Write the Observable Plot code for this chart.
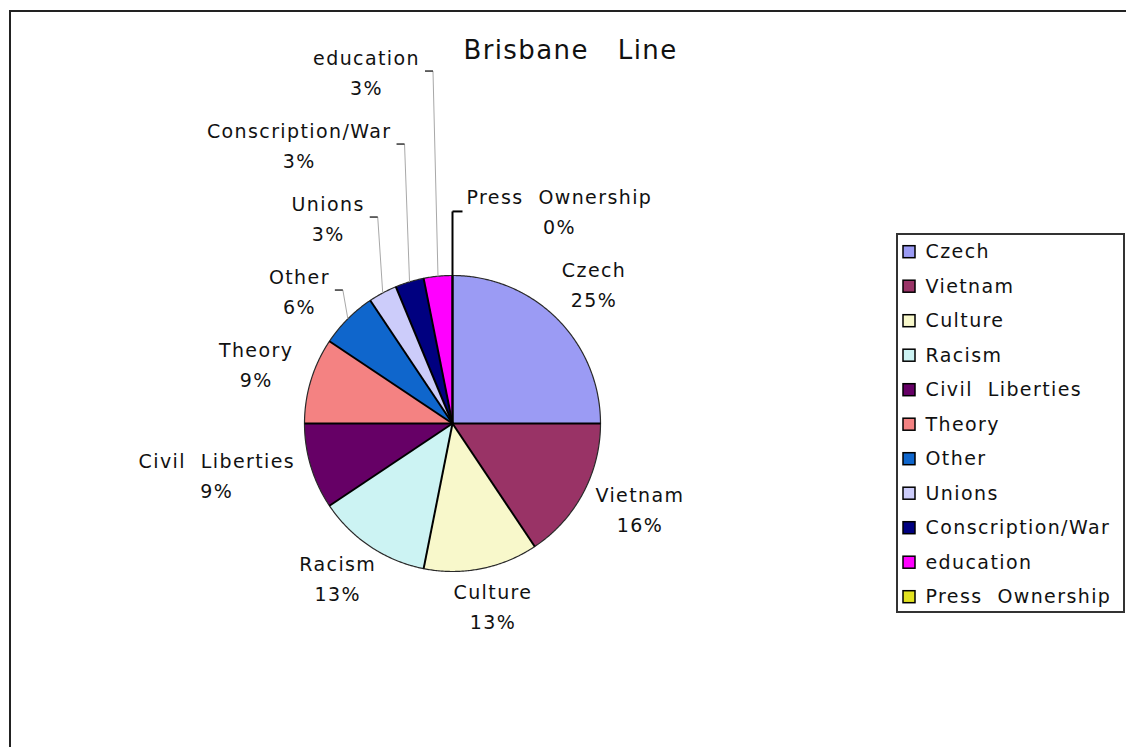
<!DOCTYPE html>
<html>
<head>
<meta charset="utf-8">
<script src="https://cdn.jsdelivr.net/npm/d3@7"></script>
<script src="https://cdn.jsdelivr.net/npm/@observablehq/plot@0.6"></script>
<style>
  html, body { margin: 0; padding: 0; background: #fff; overflow: hidden; }
  #chart svg { display: block; }
</style>
</head>
<body>
<div id="chart"></div>
<script>
// ---- data ----
const title = "Brisbane   Line";
const categories = ["Czech", "Vietnam", "Culture", "Racism", "Civil  Liberties", "Theory",
  "Other", "Unions", "Conscription/War", "education", "Press  Ownership"];
const counts = [8, 5, 4, 4, 3, 3, 2, 1, 1, 1, 0];
const colors = ["#9b9bf4", "#993366", "#f8f8cb", "#ccf3f3", "#660066", "#f48282",
  "#0f66cc", "#ccccfa", "#000080", "#ff00ff", "#e2e220"];

// ---- layout ----
const W = 1126, H = 747;
const cx = 452, cy = 423, R = 148;
const FONT = "DejaVu Sans", FS = 19, LS = 1.4;
const TEXT = "#111";
const nb = s => s.replace(/ /g, "\u00a0");

const total = d3.sum(counts);
const pctText = counts.map(v => Math.round(100 * v / total) + "%");

const ctx = document.createElement("canvas").getContext("2d");
ctx.font = `${FS}px "${FONT}"`;
const tw = s => ctx.measureText(nb(s)).width + LS * s.length;

const arcs = d3.pie().sort(null).startAngle(0).endAngle(2 * Math.PI)(counts);
const pt = (a, r) => ({x: cx + r * Math.sin(a), y: cy - r * Math.cos(a)});

// wedge polygons and arc outlines
const wedgeRows = [], outlineRows = [], radialRows = [];
arcs.forEach((a, i) => {
  const name = categories[i];
  radialRows.push({...pt(a.startAngle, R), x0: cx, y0: cy});
  if (a.endAngle - a.startAngle <= 0) return;
  const n = Math.max(2, Math.ceil((a.endAngle - a.startAngle) / (Math.PI / 360)));
  wedgeRows.push({name, x: cx, y: cy});
  for (let k = 0; k <= n; k++) {
    const p = pt(a.startAngle + (a.endAngle - a.startAngle) * k / n, R);
    wedgeRows.push({name, ...p});
    outlineRows.push({name, ...p});
  }
});

// labels (Excel-like placement with stacking for small slices)
const labels = arcs.map((a, i) => {
  const mid = (a.startAngle + a.endAngle) / 2;
  const ux = Math.sin(mid), uy = -Math.cos(mid);
  const anchor = pt(mid, R);
  const w = Math.max(tw(categories[i]), tw(pctText[i]));
  const h = 46;
  const P = pt(mid, R + 20);
  return {
    i, name: categories[i], pct: pctText[i], value: counts[i], mid,
    side: ux > -1e-9 ? "right" : "left",
    leader: counts[i] / total < 0.07,
    ax: anchor.x, ay: anchor.y, w,
    x: P.x + ux * w / 2, y: P.y + uy * h / 2 - 3
  };
});
const PITCH = 73;
function stack(list) {
  let prev = Infinity;
  for (const d of list) {
    if (d.leader) {
      d.y = Math.min(d.ay - 25, prev - PITCH);
      d.x = d.side === "left" ? d.ax - 18 - d.w / 2 : d.ax + 14 + d.w / 2;
    }
    prev = d.y;
  }
}
const norm = m => (Math.sin(m) > -1e-9 && m > Math.PI ? m - 2 * Math.PI : m);
stack(labels.filter(d => d.side === "right").sort((a, b) => norm(b.mid) - norm(a.mid)));
stack(labels.filter(d => d.side === "left").sort((a, b) => a.mid - b.mid));

const leaders = labels.filter(d => d.leader);
const tickRows = leaders.map(d => d.side === "left"
  ? {x1: d.ax - 13, x2: d.ax - 5, y: d.y - 2, black: d.value === 0}
  : {x1: d.ax, x2: d.ax + 10, y: d.y - 1, black: d.value === 0});
const leaderRows = leaders.map(d => d.side === "left"
  ? {x1: d.ax - 5, y1: d.y - 2, x2: d.ax, y2: d.ay, black: d.value === 0}
  : {x1: d.ax, y1: d.y - 1, x2: d.ax, y2: d.ay, black: d.value === 0});

// legend
const legendRows = categories.map((name, i) => ({name, i, y: 251.7 + i * 34.5}));

const color = {type: "ordinal", domain: categories, range: colors};

const chart = Plot.plot({
  width: W, height: H, margin: 0,
  x: {type: "identity", axis: null},
  y: {type: "identity", axis: null},
  color,
  style: {fontFamily: `"${FONT}", sans-serif`, letterSpacing: LS + "px", background: "#fff", overflow: "hidden"},
  marks: [
    // outer chart border
    Plot.rect([0], {x1: 10, y1: 11, x2: W + 10, y2: H + 10, fill: "none", stroke: "#222", strokeWidth: 2}),
    // wedges
    Plot.line(wedgeRows, {x: "x", y: "y", z: "name", fill: "name", stroke: "none", curve: "linear-closed"}),
    Plot.line(outlineRows, {x: "x", y: "y", z: "name", stroke: "#2a2a2a", strokeWidth: 1.2}),
    Plot.link(radialRows, {x1: "x0", y1: "y0", x2: "x", y2: "y", stroke: "#000", strokeWidth: 2}),
    // leader lines
    Plot.link(leaderRows, {x1: "x1", y1: "y1", x2: "x2", y2: "y2",
      stroke: d => d.black ? "#000" : "#a8a8a8", strokeWidth: d => d.black ? 2 : 1}),
    Plot.link(tickRows, {x1: "x1", x2: "x2", y1: "y", y2: "y",
      stroke: d => d.black ? "#000" : "#333", strokeWidth: d => d.black ? 2 : 1.5}),
    // data labels
    Plot.text(labels, {x: "x", y: "y", dy: -3, text: d => nb(d.name) + "\n" + d.pct,
      fontSize: FS, lineHeight: 30 / FS, lineAnchor: "middle", textAnchor: "middle", fill: TEXT}),
    // title
    Plot.text([title], {x: 570, y: 50, text: d => nb(d), fontSize: 26, textAnchor: "middle",
      lineAnchor: "middle", fill: TEXT, ariaLabel: "title"}),
    // legend
    Plot.rect([0], {x1: 897, x2: 1124, y1: 234, y2: 612, fill: "#fff", stroke: "#333", strokeWidth: 2}),
    Plot.rect(legendRows, {x1: 903, x2: 915, y1: d => d.y - 6, y2: d => d.y + 6, fill: "name", stroke: "#000", strokeWidth: 1.5}),
    Plot.text(legendRows, {x: 925, y: "y", text: d => nb(d.name), fontSize: FS, textAnchor: "start",
      lineAnchor: "middle", fill: TEXT})
  ]
});
d3.select(chart).select('g[aria-label="title"]').style("letter-spacing", "2.1px");
document.getElementById("chart").appendChild(chart);
</script>
</body>
</html>
